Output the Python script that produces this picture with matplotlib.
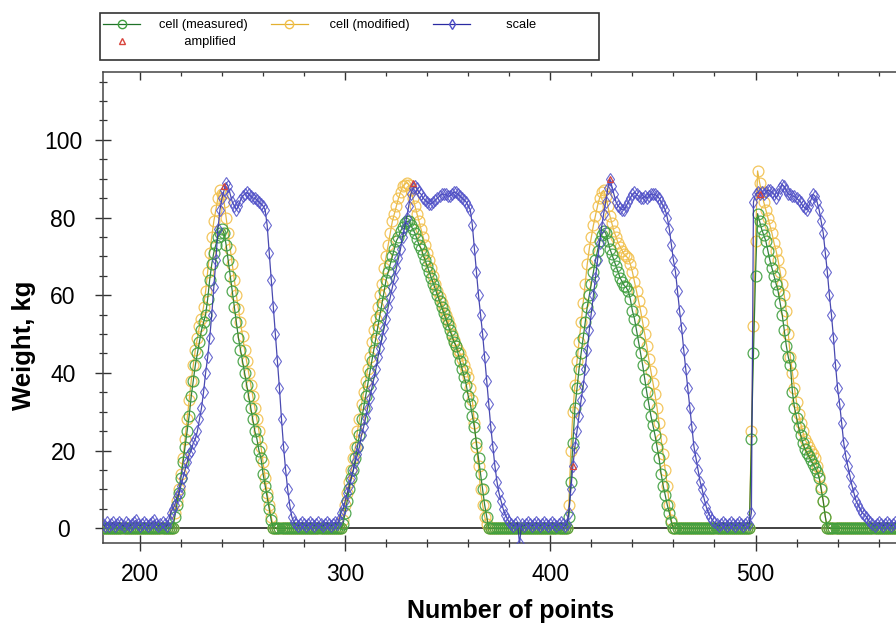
import numpy as np
import matplotlib
matplotlib.use("Agg")
import matplotlib.pyplot as plt
from matplotlib.lines import Line2D
from matplotlib.patches import Rectangle
from matplotlib.ticker import MultipleLocator

plt.rcParams['font.family'] = ['Liberation Sans', 'DejaVu Sans']

# sample index (number of points)
points = np.arange(182, 573)

# cell (measured)
measured = [
    # 182-216
    0, 0, 0, 0, 0, 0, 0, 0, 0, 0, 0, 0, 0, 0, 0, 0, 0, 0, 0, 0,
    0, 0, 0, 0, 0, 0, 0, 0, 0, 0, 0, 0, 0, 0, 0,
    # 217-264
    3, 6, 9, 13, 17, 21, 25, 29, 34, 38, 42, 45, 48, 51, 53, 55, 59, 64, 68, 71,
    73, 75, 76, 77, 76, 73, 69, 65, 61, 57, 53, 49, 46, 43, 40, 37, 34, 31, 28, 25,
    23, 20, 18, 14, 11, 8, 5, 2,
    # 265-298
    0, 0, 0, 0, 0, 0, 0, 0, 0, 0, 0, 0, 0, 0, 0, 0, 0, 0, 0, 0,
    0, 0, 0, 0, 0, 0, 0, 0, 0, 0, 0, 0, 0, 0,
    # 299-369
    1, 4, 7, 10, 13, 15, 18, 21, 24, 28, 31, 34, 37, 40, 43, 46, 49, 52, 55, 58,
    61, 64, 66, 68, 70, 72, 74, 75, 76.5, 77.5, 78.5, 79, 79, 78, 77, 76, 74.5, 73, 72, 70.5,
    69, 67.5, 66, 64.5, 63, 61.5, 60, 58.5, 57, 55.5, 54, 52.5, 51, 49.5, 48, 47, 45, 43, 41, 39,
    37, 34, 32, 29, 26, 22, 18, 14, 10, 6, 3,
    # 370-408
    0, 0, 0, 0, 0, 0, 0, 0, 0, 0, 0, 0, 0, 0, 0, 0, 0, 0, 0, 0,
    0, 0, 0, 0, 0, 0, 0, 0, 0, 0, 0, 0, 0, 0, 0, 0, 0, 0, 0,
    # 409-459
    3, 12, 22, 31, 36, 41, 45, 49, 53, 57, 60, 63, 66, 69, 71.5, 74, 75.5, 76.5, 76, 74,
    72, 70.5, 69, 67.5, 66, 64.5, 63.5, 62.5, 62, 61, 59, 56, 54, 51, 48, 45, 42, 38.5, 35, 32,
    29, 26.5, 24, 21, 18, 14, 11, 8.5, 6, 4, 1.5,
    # 460-497
    0, 0, 0, 0, 0, 0, 0, 0, 0, 0, 0, 0, 0, 0, 0, 0, 0, 0, 0, 0,
    0, 0, 0, 0, 0, 0, 0, 0, 0, 0, 0, 0, 0, 0, 0, 0, 0, 0,
    # 498-534
    23, 45, 65, 81, 79, 77, 75.5, 74, 71.5, 69, 67, 65, 63, 61, 58, 55, 51, 47, 44, 42,
    35, 31, 28.5, 26, 24, 22, 20.5, 19.5, 18.5, 17.5, 16.5, 15.5, 14.5, 13, 10, 7, 3,
    # 535-572
    0, 0, 0, 0, 0, 0, 0, 0, 0, 0, 0, 0, 0, 0, 0, 0, 0, 0, 0, 0,
    0, 0, 0, 0, 0, 0, 0, 0, 0, 0, 0, 0, 0, 0, 0, 0, 0, 0,
]

# cell (modified)
modified = [
    # 182-216
    0, 0, 0, 0, 0, 0, 0, 0, 0, 0, 0, 0, 0, 0, 0, 0, 0, 0, 0, 0,
    0, 0, 0, 0, 0, 0, 0, 0, 0, 0, 0, 0, 0, 0, 0,
    # 217-264
    4, 7, 10, 14, 18, 23, 28, 33, 38, 42, 46, 49, 52, 54, 57, 61, 66, 71, 75, 79,
    82, 85, 87, 86, 84, 80, 76, 72, 68, 64, 60, 56.5, 53, 49.5, 46, 43, 40, 37, 34, 31,
    28, 25, 21, 17, 13, 9, 6, 3,
    # 265-298
    0, 0, 0, 0, 0, 0, 0, 0, 0, 0, 0, 0, 0, 0, 0, 0, 0, 0, 0, 0,
    0, 0, 0, 0, 0, 0, 0, 0, 0, 0, 0, 0, 0, 0,
    # 299-369
    2, 6, 9, 12, 15, 18, 21, 25, 28, 32, 35, 38, 41, 44, 48, 51, 54, 57, 60, 63,
    67, 70, 73, 76, 79, 81, 83, 85, 86.5, 88, 88.5, 89, 88.5, 87, 85, 83, 81, 79, 77, 75,
    73, 71, 69, 67, 65, 63, 61, 59.5, 58, 56.5, 55, 53.5, 52, 50, 48.5, 47, 46, 45, 43.5, 42,
    40.5, 39, 36, 33, 27, 21, 16, 10, 6, 3, 1,
    # 370-408
    0, 0, 0, 0, 0, 0, 0, 0, 0, 0, 0, 0, 0, 0, 0, 0, 0, 0, 0, 0,
    0, 0, 0, 0, 0, 0, 0, 0, 0, 0, 0, 0, 0, 0, 0, 0, 0, 0, 0,
    # 409-459
    6, 20, 30, 37, 43, 48, 53, 58, 63, 68, 72, 75, 78, 80.5, 83, 85, 86.5, 87, 85.5, 83,
    80.5, 78.5, 76.5, 75, 73.5, 72.5, 71.5, 70.5, 70, 69.5, 68, 66, 63.5, 61, 58.5, 56, 53, 50, 47, 43.5,
    40.5, 37.5, 34.5, 31, 27, 23, 19, 15, 11, 6, 2,
    # 460-497
    0, 0, 0, 0, 0, 0, 0, 0, 0, 0, 0, 0, 0, 0, 0, 0, 0, 0, 0, 0,
    0, 0, 0, 0, 0, 0, 0, 0, 0, 0, 0, 0, 0, 0, 0, 0, 0, 0,
    # 498-534
    25, 52, 74, 92, 89, 86.5, 84, 82, 80, 78, 76, 73.5, 71.5, 69, 66, 63, 60, 56, 50, 44,
    40, 36, 32.5, 29.5, 27, 25, 23, 22, 21, 20, 19, 18, 16, 13.5, 10.5, 7, 3,
    # 535-572
    0, 0, 0, 0, 0, 0, 0, 0, 0, 0, 0, 0, 0, 0, 0, 0, 0, 0, 0, 0,
    0, 0, 0, 0, 0, 0, 0, 0, 0, 0, 0, 0, 0, 0, 0, 0, 0, 0,
]

# scale
scale = [
    # 182-213
    1, 0.5, 1.5, 0.5, 1, 1.5, 0.5, 1, 1.5, 1, 0.5, 1.5, 1, 0.5, 1, 1.5, 2, 1, 0.5, 1,
    1.5, 1, 0.5, 1, 1.5, 2, 1, 0.5, 1, 1.5, 1, 0.5,
    # 214-275
    2, 4, 5, 6, 8, 9, 11, 13, 15, 17, 19, 20, 22, 23, 25, 28, 31, 35, 40, 44,
    49, 55, 62, 69, 77, 82, 85, 87, 89, 88, 86, 84, 83, 82, 83, 84.5, 85.5, 86, 86.5, 86,
    85.5, 85, 85, 84.5, 84, 83.5, 83, 82, 78, 71, 64, 57, 50, 43, 36, 28, 21, 15, 10, 6,
    3, 1.5,
    # 276-296
    1, 0.5, 1, 1.5, 1, 0.5, 1, 1.5, 1, 0.5, 1, 1.5, 1, 0.5, 1, 1.5, 1, 0.5, 1, 1.5, 1,
    # 297-380
    2, 4, 5, 7, 9, 11, 13, 15, 17, 19, 21, 24, 26, 28.5, 31, 33.5, 36, 38.5, 41, 44,
    46.5, 49, 51.5, 54, 57, 59.5, 62, 64.5, 67, 69.5, 72, 75, 77.5, 80, 83, 86, 87.5, 88, 87.5, 86.5,
    86, 85, 84.5, 84, 83.5, 83.5, 84, 84.5, 85, 85.5, 86, 86, 86, 85.5, 85.5, 86, 86.5, 86.5, 86, 85.5,
    85, 84.5, 84, 83, 82, 78, 72, 66, 60, 55, 50, 44, 38, 32, 26, 21, 16, 12, 9, 7,
    5, 3.5, 2.5, 1.5,
    # 381-408
    1, 0.5, 1, 1.5, -4, 1, 0.5, 1, 1.5, 1, 0.5, 1, 1.5, 1, 0.5, 1, 1.5, 1, 0.5, 1,
    1.5, 1, 0.5, 1, 1.5, 1, 0.5, 1,
    # 409-480
    4, 10, 16, 21, 25, 29, 33, 36.5, 41, 46, 51, 55.5, 60, 64.5, 69, 73.5, 77.5, 81, 84, 87.5,
    90, 88, 86, 84, 83, 82.5, 82, 82, 83, 84, 85, 86, 86.5, 86, 85.5, 85, 85, 85.5, 85, 85.5,
    86, 86, 86, 85.5, 85, 84, 83, 82, 80, 77, 73, 69, 66, 61, 56, 51.5, 46, 41, 36, 31,
    26, 21, 18, 15, 12, 10, 7.5, 5.5, 4, 3, 2, 1.5,
    # 481-497
    1, 0.5, 1, 1.5, 1, 0.5, 1, 1.5, 1, 0.5, 1, 1.5, 1, 0.5, 1, 1.5, 1,
    # 498-556
    4, 84, 86, 86.5, 86, 86.5, 86, 86.5, 87, 87, 86.5, 86, 85, 86, 87.5, 88.5, 88, 87, 86, 86,
    85.5, 85.5, 85, 84.5, 84, 83, 82.5, 82, 83, 84.5, 86, 85.5, 84, 82, 79, 76, 71, 66, 60, 55,
    49, 42, 36, 32, 27, 22, 18.5, 16, 13.5, 11, 9, 7, 6, 5, 4, 3.5, 3, 2, 1.5,
    # 557-572
    1, 0.5, 1, 1.5, 1, 0.5, 1, 1.5, 1, 0.5, 1, 1.5, 1, 0.5, 1, 1.5,
]

# amplified
amp_x = [241, 333, 411, 429, 502]
amp_y = [88, 89, 16, 90, 86]

x_major = [200, 300, 400, 500]
y_major = [0, 20, 40, 60, 80, 100]

labels = ['cell (measured)', 'amplified', 'cell (modified)', 'scale']

green_m, green_l = '#3f9f3f', '#1f7228'
yellow_m, yellow_l = '#f2c04c', '#e3b030'
blue_m, blue_l = '#5050c8', '#2a2aa2'
red_m = '#d8443c'

W, H = 896, 623
fig = plt.figure(figsize=(W / 100, H / 100), dpi=100)
ax = fig.add_axes([103 / W, 1 - 543 / H, 814 / W, (543 - 72.3) / H])

ax.axhline(0, color='#333333', lw=1.3, zorder=1)

ax.plot(points, modified, '-', color=yellow_l, lw=0.9, marker='o', ms=7.8,
        mfc='none', mec=yellow_m, mew=0.9, alpha=0.9, zorder=3)
ax.plot(points, measured, '-', color=green_l, lw=0.9, marker='o', ms=7.8,
        mfc='none', mec=green_m, mew=0.9, alpha=0.9, zorder=4)
ax.plot(points, scale, '-', color=blue_l, lw=0.9, marker='d', ms=6,
        mfc='none', mec=blue_m, mew=0.8, alpha=0.85, zorder=5)
ax.plot(amp_x, amp_y, ls='none', marker='^', ms=5, mfc='none', mec=red_m,
        mew=0.9, zorder=6)

ax.set_xlim(182, 578.7)
ax.set_ylim(-3.8, 117.4)
ax.set_xticks(x_major)
ax.set_yticks(y_major)
ax.xaxis.set_minor_locator(MultipleLocator(20))
ax.yaxis.set_minor_locator(MultipleLocator(5))

ax.spines['right'].set_visible(False)
ax.spines['top'].set_visible(False)
for s in ('left', 'bottom'):
    ax.spines[s].set_color('#444444')
    ax.spines[s].set_linewidth(1.1)

ax.tick_params(axis='both', which='major', direction='inout', length=11.5,
               width=1.0, color='#333333', labelsize=16.5)
ax.tick_params(axis='both', which='minor', direction='inout', length=5.8,
               width=0.9, color='#333333')
ax.tick_params(axis='x', which='major', pad=8.5)
ax.tick_params(axis='y', which='major', pad=23)
for lab in ax.get_yticklabels():
    lab.set_horizontalalignment('center')

sec = ax.secondary_xaxis('top')
sec.set_xticks(x_major)
sec.xaxis.set_minor_locator(MultipleLocator(20))
sec.tick_params(which='major', direction='in', length=5.8, width=1.0,
                color='#333333', labeltop=False)
sec.tick_params(which='minor', direction='in', length=3, width=0.9,
                color='#333333')
sec.spines['top'].set_color('#444444')
sec.spines['top'].set_linewidth(1.1)

ax.set_xlabel('Number of points', fontsize=18, fontweight='bold')
ax.set_ylabel('Weight, kg', fontsize=18.5, fontweight='bold')
ax.xaxis.set_label_coords(0.501, -0.119)
ax.yaxis.set_label_coords(-0.0823, 0.419)

# legend
h_meas = Line2D([], [], color=green_l, lw=0.9, marker='o', ms=6, mfc='none', mec=green_m)
h_amp = Line2D([], [], ls='none', marker='^', ms=5, mfc='none', mec=red_m)
h_mod = Line2D([], [], color=yellow_l, lw=0.9, marker='o', ms=6, mfc='none', mec=yellow_m)
h_scale = Line2D([], [], color=blue_l, lw=0.9, marker='d', ms=5.5, mfc='none', mec=blue_m)
shown = [labels[0], '       ' + labels[1], ' ' + labels[2], '     ' + labels[3]]
fig.legend([h_meas, h_amp, h_mod, h_scale], shown, ncol=3, loc='upper left',
           bbox_to_anchor=(103 / W, 1 - 19 / H), frameon=False, borderpad=0,
           borderaxespad=0, fontsize=9.3, handlelength=2.9, handletextpad=1.4,
           columnspacing=1.8, labelspacing=0.4, numpoints=1)
fig.add_artist(Rectangle((100 / W, 1 - 60 / H), 499 / W, 47 / H,
                         transform=fig.transFigure, fill=False,
                         ec='#333333', lw=1.2))

fig.savefig('out.png', dpi=100)
